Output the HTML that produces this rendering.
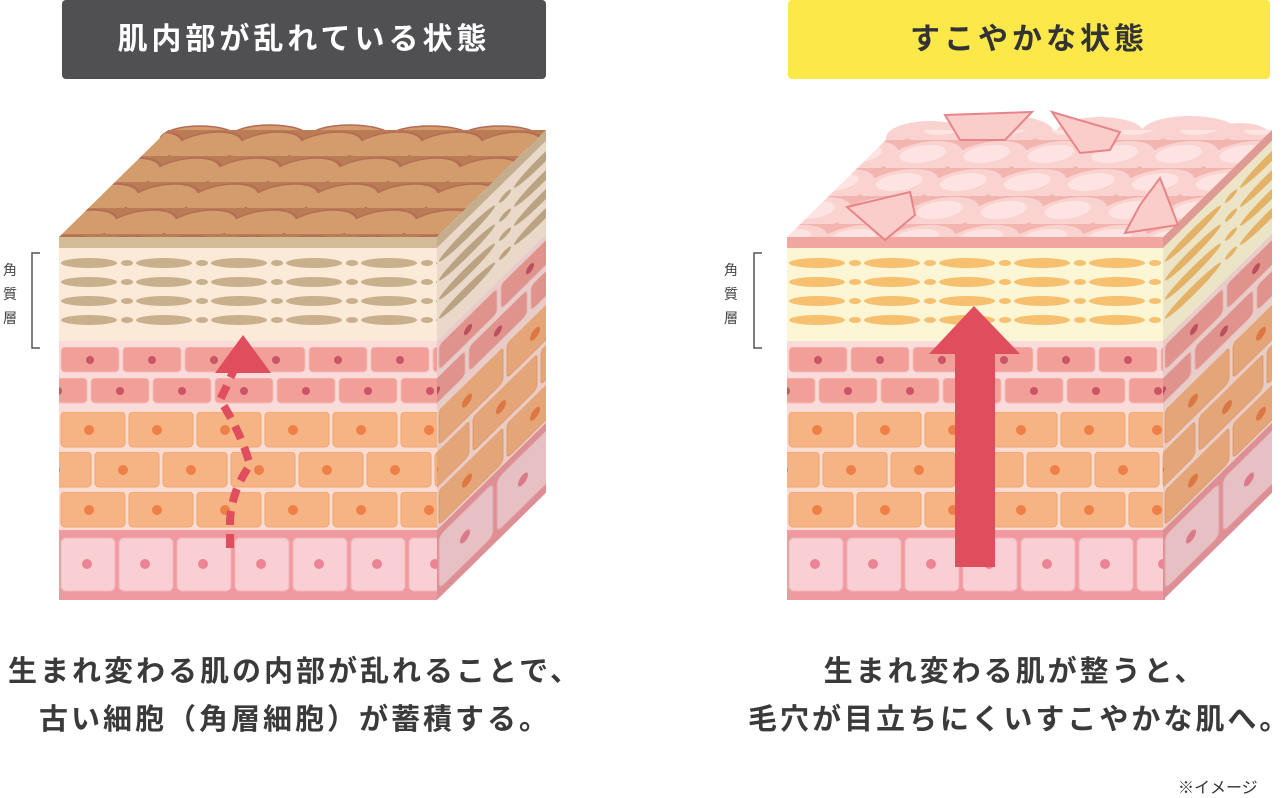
<!DOCTYPE html>
<html><head><meta charset="utf-8"><style>
html,body{margin:0;padding:0;background:#fff;width:1282px;height:796px;overflow:hidden;font-family:"Liberation Sans","Noto Sans CJK JP",sans-serif}
.h{position:absolute;top:0;height:79px;border-radius:4px;text-align:center;line-height:79px;font-size:30px;font-weight:bold;letter-spacing:4px}
.cap{position:absolute;text-align:center;font-size:29px;font-weight:bold;color:#3a3a3a;line-height:48px;letter-spacing:3px;white-space:nowrap}
.lbl{position:absolute;font-size:14px;color:#444;line-height:24px;width:20px;text-align:center}
</style></head><body>
<div class="h" style="left:62px;width:484px;background:#505052;color:#fff">肌内部が乱れている状態</div>
<div class="h" style="left:788px;width:482px;background:#fde84a;color:#333">すこやかな状態</div>

<svg width="1282" height="796" style="position:absolute;left:0;top:0">
<defs>
<pattern id="pk" patternUnits="userSpaceOnUse" width="62" height="31" x="0" y="347"><rect x="2" y="0" width="58" height="25" rx="4" fill="#f19f98" stroke="#f7bcb5"/><circle cx="31" cy="13" r="4" fill="#c95565"/></pattern>
<pattern id="pk2" patternUnits="userSpaceOnUse" width="62" height="31" x="30" y="378"><rect x="2" y="0" width="58" height="25" rx="4" fill="#f19f98" stroke="#f7bcb5"/><circle cx="31" cy="13" r="4" fill="#c95565"/></pattern>
<pattern id="or" patternUnits="userSpaceOnUse" width="68" height="40" x="0" y="412"><rect x="2" y="0" width="64" height="35" rx="4" fill="#f6b383" stroke="#f2a372"/><circle cx="30" cy="18" r="5" fill="#ee8047"/></pattern>
<pattern id="or2" patternUnits="userSpaceOnUse" width="68" height="40" x="34" y="452"><rect x="2" y="0" width="64" height="35" rx="4" fill="#f6b383" stroke="#f2a372"/><circle cx="30" cy="18" r="5" fill="#ee8047"/></pattern>
<pattern id="bs" patternUnits="userSpaceOnUse" width="58" height="60" x="0" y="537"><rect x="2" y="1" width="54" height="53" rx="5" fill="#f9cfd3" stroke="#f4b4ba"/><circle cx="28" cy="27" r="5" fill="#ec8496"/></pattern>
<pattern id="ovL" patternUnits="userSpaceOnUse" width="75" height="19" x="0" y="254"><ellipse cx="30" cy="9" rx="28" ry="5" fill="#c9b08c"/><ellipse cx="68" cy="9" rx="6" ry="3" fill="#c9b08c"/></pattern>
<pattern id="ovR" patternUnits="userSpaceOnUse" width="75" height="19" x="0" y="254"><ellipse cx="30" cy="9" rx="28" ry="5" fill="#f6c06e"/><ellipse cx="68" cy="9" rx="6" ry="3" fill="#f6c06e"/></pattern>
<pattern id="scL" patternUnits="userSpaceOnUse" width="60" height="26" patternTransform="skewX(-40)"><rect width="60" height="26" fill="#b97c55"/><ellipse cx="30" cy="18" rx="34" ry="16" fill="#d29c6c" stroke="#b56a55" stroke-width="1.5"/></pattern>
<pattern id="scR" patternUnits="userSpaceOnUse" width="64" height="28" patternTransform="skewX(-40)"><rect width="64" height="28" fill="#f2b5b0"/><ellipse cx="32" cy="18" rx="36" ry="17" fill="#fad3d0"/><ellipse cx="28" cy="14" rx="22" ry="9" fill="#fde4e2"/></pattern>

<g id="LL">
<rect x="0" y="237" width="420" height="11" fill="#d4bc98"/>
<rect x="0" y="248" width="420" height="93" fill="#fcead8"/>
<rect x="0" y="254" width="420" height="80" fill="url(#ovL)"/>
<rect x="0" y="341" width="420" height="68" fill="#f9dcda"/>
<rect x="0" y="347" width="420" height="26" fill="url(#pk)"/>
<rect x="0" y="378" width="420" height="26" fill="url(#pk2)"/>
<rect x="0" y="409" width="420" height="121" fill="#fbdcd3"/>
<rect x="0" y="412" width="420" height="36" fill="url(#or)"/>
<rect x="0" y="452" width="420" height="36" fill="url(#or2)"/>
<rect x="0" y="492" width="420" height="36" fill="url(#or)"/>
<rect x="0" y="530" width="420" height="70" fill="#ef9aa0"/>
<rect x="0" y="537" width="420" height="55" fill="url(#bs)"/>
</g>
<g id="RL">
<rect x="0" y="237" width="420" height="11" fill="#f2a6a0"/>
<rect x="0" y="248" width="420" height="93" fill="#fdf6d5"/>
<rect x="0" y="254" width="420" height="80" fill="url(#ovR)"/>
<rect x="0" y="341" width="420" height="68" fill="#f9dcda"/>
<rect x="0" y="347" width="420" height="26" fill="url(#pk)"/>
<rect x="0" y="378" width="420" height="26" fill="url(#pk2)"/>
<rect x="0" y="409" width="420" height="121" fill="#fbdcd3"/>
<rect x="0" y="412" width="420" height="36" fill="url(#or)"/>
<rect x="0" y="452" width="420" height="36" fill="url(#or2)"/>
<rect x="0" y="492" width="420" height="36" fill="url(#or)"/>
<rect x="0" y="530" width="420" height="70" fill="#ef9aa0"/>
<rect x="0" y="537" width="420" height="55" fill="url(#bs)"/>
</g>
<clipPath id="cf"><rect x="0" y="237" width="378" height="363"/></clipPath>
<clipPath id="cs"><rect x="0" y="237" width="109" height="363"/></clipPath>
</defs>

<!-- LEFT CUBE -->
<g fill="#d29c6c" stroke="#b56a55" stroke-width="1.5">
<ellipse cx="200" cy="140" rx="40" ry="14"/><ellipse cx="270" cy="138" rx="40" ry="13"/><ellipse cx="350" cy="138" rx="42" ry="13"/><ellipse cx="430" cy="138" rx="42" ry="12"/><ellipse cx="500" cy="138" rx="40" ry="12"/>
</g>
<polygon points="59,237 437,237 546,130 168,130" fill="url(#scL)"/>
<g transform="translate(59,0)" clip-path="url(#cf)"><use href="#LL"/></g>
<g transform="translate(437,0) skewY(-44.5)"><g clip-path="url(#cs)"><use href="#LL"/><rect x="0" y="237" width="109" height="363" fill="#000" opacity="0.07"/></g></g>
<path d="M230,548 L230,520 Q232,490 250,465 Q240,430 220,400 Q230,380 240,355" fill="none" stroke="#e04d5c" stroke-width="8" stroke-dasharray="14,9"/>
<polygon points="215,373 271,373 243,335" fill="#e04d5c"/>

<!-- RIGHT CUBE -->
<g fill="#fad3d0">
<ellipse cx="930" cy="138" rx="44" ry="17"/><ellipse cx="1010" cy="133" rx="44" ry="17"/><ellipse cx="1100" cy="133" rx="44" ry="16"/><ellipse cx="1190" cy="132" rx="48" ry="16"/><ellipse cx="1240" cy="135" rx="30" ry="12"/>
</g>
<polygon points="787,237 1163,237 1272,130 896,130" fill="url(#scR)"/>
<g transform="translate(787,0)" clip-path="url(#cf)"><use href="#RL"/></g>
<g transform="translate(1163,0) skewY(-44.5)"><g clip-path="url(#cs)"><use href="#RL"/><rect x="0" y="237" width="109" height="363" fill="#000" opacity="0.07"/></g></g>
<polygon points="945,115 1032,112 1005,140 960,140" fill="#f9cdc9" stroke="#e8858a" stroke-width="2"/>
<polygon points="1052,112 1120,132 1110,150 1080,153" fill="#f9cdc9" stroke="#e8858a" stroke-width="2"/>
<polygon points="847,207 910,192 915,215 885,240" fill="#f9cdc9" stroke="#e8858a" stroke-width="2"/>
<polygon points="1160,178 1178,225 1125,233 1140,205" fill="#f9cdc9" stroke="#e8858a" stroke-width="2"/>
<rect x="955" y="352" width="40" height="215" fill="#e04d5c"/>
<polygon points="929,354 1020,354 974,306" fill="#e04d5c"/>

<!-- brackets -->
<path d="M40,253 H32 V348 H40" fill="none" stroke="#555" stroke-width="1.5"/>
<path d="M762,253 H754 V348 H762" fill="none" stroke="#555" stroke-width="1.5"/>
</svg>
<div class="lbl" style="left:0;top:258px">角<br>質<br>層</div>
<div class="lbl" style="left:721px;top:258px">角<br>質<br>層</div>

<div class="cap" style="left:0;width:590px;top:648px">生まれ変わる肌の内部が乱れることで、<br>古い細胞（角層細胞）が蓄積する。</div>
<div class="cap" style="left:748px;width:534px;top:648px">生まれ変わる肌が整うと、<br>毛穴が目立ちにくいすこやかな肌へ。</div>
<div style="position:absolute;left:1178px;top:774px;font-size:16px;color:#333">※イメージ</div>
</body></html>
